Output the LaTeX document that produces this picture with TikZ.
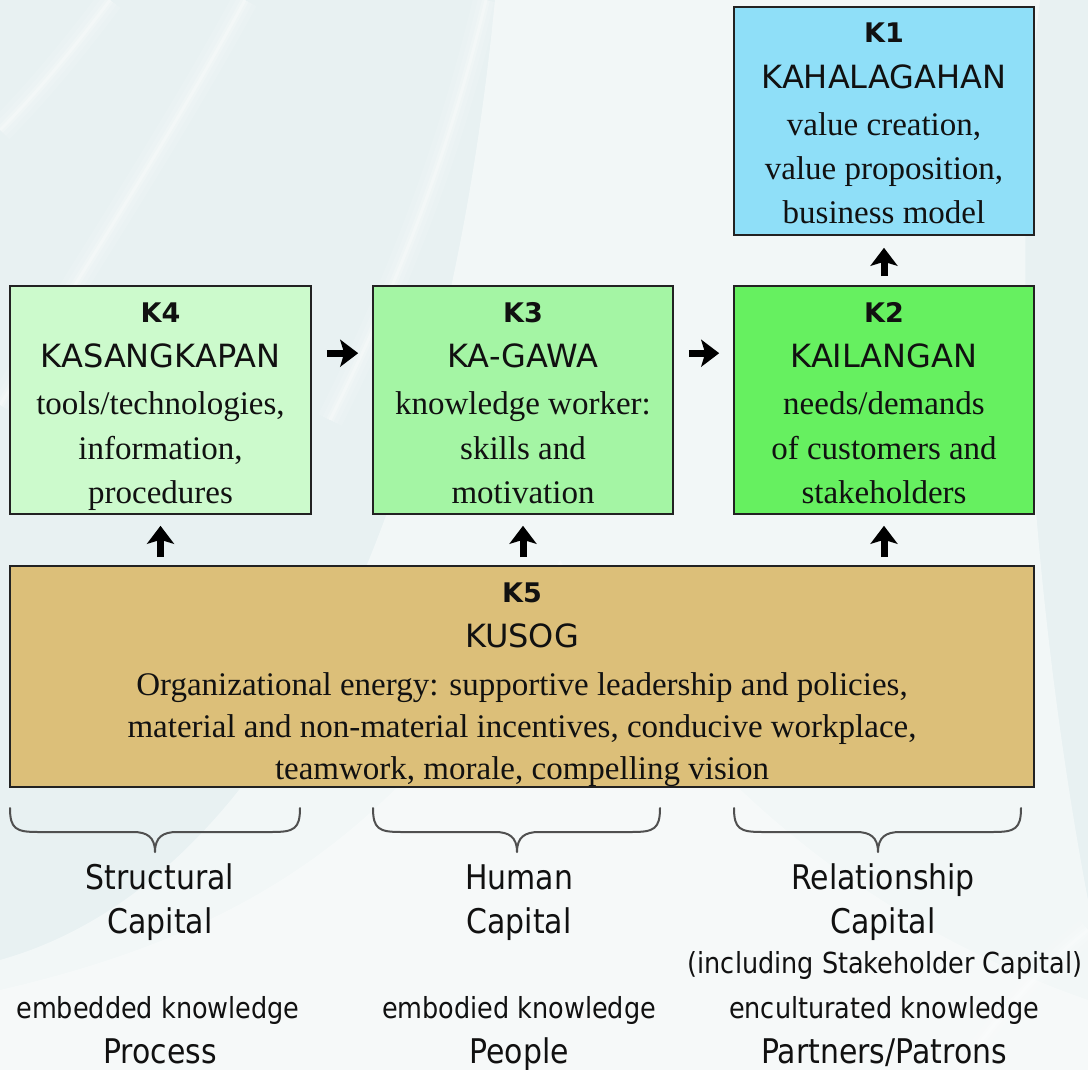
\documentclass[tikz,border=0pt]{standalone}
\usepackage{fontspec}
\setmainfont{Liberation Serif}
\newfontfamily\sansA{DejaVu Sans}
\newfontfamily\sansB[FakeStretch=0.88]{DejaVu Sans}
\usetikzlibrary{arrows.meta}

\definecolor{bgbase}{HTML}{E8F1F2}
\definecolor{boxline}{HTML}{222222}
\definecolor{kOne}{HTML}{8FDFF8}
\definecolor{kTwo}{HTML}{66F060}
\definecolor{kThree}{HTML}{A4F5A4}
\definecolor{kFour}{HTML}{CCFACC}
\definecolor{kFive}{HTML}{DCBF79}
\definecolor{inkc}{HTML}{111111}
\definecolor{bracec}{HTML}{505050}

% curly brace over one capital column: left x, right x, tip x
\newcommand\capbrace[3]{%
  \draw[bracec, line width=2pt, line cap=round, line join=round]
    (#1,808) .. controls (#1,829) and ({#1+6},832) .. ({#1+28},832)
    -- ({#3-22},832) .. controls ({#3-8},832) and (#3,837) .. (#3,852)
    .. controls (#3,837) and ({#3+8},832) .. ({#3+22},832)
    -- ({#2-28},832) .. controls ({#2-6},832) and (#2,829) .. (#2,808);}

% soft light band along a curve
\newcommand\softband[1]{%
  \foreach \w/\o in {26/0.10, 16/0.14, 8/0.18, 3/0.25}
    \draw[white, opacity=\o, line width=\w pt] #1;}

\begin{document}
\begin{tikzpicture}[x=1pt, y=-1pt,
  box/.style={draw=boxline, line width=1.6pt, inner sep=0pt},
  ttl/.style={font=\sansA\bfseries\fontsize{27}{32}\selectfont, anchor=base, inner sep=0pt, text=inkc},
  nm/.style={font=\sansA\fontsize{32}{38}\selectfont, anchor=base, inner sep=0pt, text=inkc},
  desc/.style={font=\fontsize{33}{40}\selectfont, anchor=base, inner sep=0pt, text=inkc},
  capt/.style={font=\sansB\fontsize{34}{40}\selectfont, anchor=base, inner sep=0pt, text=inkc},
  subt/.style={font=\sansB\fontsize{29}{35}\selectfont, anchor=base, inner sep=0pt, text=inkc},
  flow/.style={line width=7pt, -{Stealth[length=18pt,width=27pt,inset=4pt]}, black}]

\useasboundingbox (0,0) rectangle (1088,1070);

% background with soft light swooshes
\fill[bgbase] (0,0) rectangle (1088,1070);
\fill[white, opacity=0.45]
  (0,1070) -- (0,960) .. controls (250,890) and (440,560) .. (495,0)
  -- (1040,0) .. controls (1000,320) and (1050,700) .. (1088,900) -- (1088,1070) -- cycle;
\fill[white, opacity=0.35]
  (0,1070) -- (0,990) .. controls (260,930) and (420,820) .. (560,560)
  .. controls (640,700) and (800,900) .. (1088,1000) -- (1088,1070) -- cycle;
\softband{(0,405) .. controls (90,260) and (180,120) .. (245,0)}
\softband{(0,130) .. controls (40,90) and (80,40) .. (110,0)}
\softband{(330,420) .. controls (400,280) and (450,150) .. (486,0)}
\softband{(960,1070) .. controls (1010,1000) and (1050,960) .. (1088,930)}

% boxes
\node[box, fill=kOne,   minimum width=300pt, minimum height=228pt] (K1) at (884,121) {};
\node[box, fill=kFour,  minimum width=301pt, minimum height=228pt] (K4) at (160.5,400) {};
\node[box, fill=kThree, minimum width=300pt, minimum height=228pt] (K3) at (523,400) {};
\node[box, fill=kTwo,   minimum width=300pt, minimum height=228pt] (K2) at (884,400) {};
\node[box, fill=kFive,  minimum width=1024pt, minimum height=221pt] (K5) at (522,676.5) {};

% K1 text
\node[ttl]  (k1t) at (884,43)  {K1};
\node[nm]   (k1n) at (884,89)  {KAHALAGAHAN};
\node[desc] (k1a) at (884,136) {value creation,};
\node[desc] (k1b) at (884,180) {value proposition,};
\node[desc] (k1c) at (884,224) {business model};

% K4 text
\node[ttl]  (k4t) at (160.5,322) {K4};
\node[nm]   (k4n) at (160.5,367) {KASANGKAPAN};
\node[desc] (k4a) at (160.5,414) {tools/technologies,};
\node[desc] (k4b) at (160.5,459) {information,};
\node[desc] (k4c) at (160.5,503) {procedures};

% K3 text
\node[ttl]  (k3t) at (523,322) {K3};
\node[nm]   (k3n) at (523,367) {KA-GAWA};
\node[desc] (k3a) at (523,414) {knowledge worker:};
\node[desc] (k3b) at (523,459) {skills and};
\node[desc] (k3c) at (523,503) {motivation};

% K2 text
\node[ttl]  (k2t) at (884,322) {K2};
\node[nm]   (k2n) at (884,367) {KAILANGAN};
\node[desc] (k2a) at (884,414) {needs/demands};
\node[desc] (k2b) at (884,459) {of customers and};
\node[desc] (k2c) at (884,503) {stakeholders};

% K5 text
\node[ttl]  (k5t) at (522,602) {K5};
\node[nm]   (k5n) at (522,647) {KUSOG};
\node[desc] (k5a) at (522,695) {Organizational energy: supportive leadership and policies,};
\node[desc] (k5b) at (522,737) {material and non-material incentives, conducive workplace,};
\node[desc] (k5c) at (522,779) {teamwork, morale, compelling vision};

% flow arrows
\draw[flow, shorten <=15pt, shorten >=14pt] ([yshift=-68pt]K4.north east) -- ([yshift=-68pt]K3.north west);
\draw[flow, shorten <=15pt, shorten >=14pt] ([yshift=-68pt]K3.north east) -- ([yshift=-68pt]K2.north west);
\draw[flow, shorten <=8pt, shorten >=11pt] (K4.south |- K5.north) -- (K4.south);
\draw[flow, shorten <=8pt, shorten >=11pt] (K3.south |- K5.north) -- (K3.south);
\draw[flow, shorten <=8pt, shorten >=11pt] (K2.south |- K5.north) -- (K2.south);
\draw[flow, shorten <=9pt, shorten >=12pt] (K2.north) -- (K1.south);

% capital braces
\capbrace{10}{300}{155}
\capbrace{373}{660}{517}
\capbrace{734}{1021}{878}

% capital labels
\node[capt] (s1) at (160,889)  {Structural};
\node[capt] (s2) at (160,933)  {Capital};
\node[subt] (s3) at (158,1018) {embedded knowledge};
\node[capt] (s4) at (160,1063) {Process};

\node[capt] (h1) at (519,889)  {Human};
\node[capt] (h2) at (519,933)  {Capital};
\node[subt] (h3) at (519,1018) {embodied knowledge};
\node[capt] (h4) at (519,1063) {People};

\node[capt] (r1) at (883,889)  {Relationship};
\node[capt] (r2) at (883,933)  {Capital};
\node[subt] (r3) at (885,973)  {(including Stakeholder Capital)};
\node[subt] (r4) at (884,1018) {enculturated knowledge};
\node[capt] (r5) at (884,1063) {Partners/Patrons};

\end{tikzpicture}
\end{document}
